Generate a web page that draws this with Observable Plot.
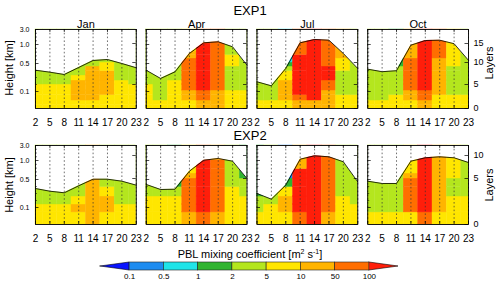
<!DOCTYPE html>
<html><head><meta charset="utf-8">
<script src="https://cdn.jsdelivr.net/npm/d3@7"></script>
<script src="https://cdn.jsdelivr.net/npm/@observablehq/plot@0.6"></script>
<style>
body{margin:0;background:#fff;font-family:"Liberation Sans",Arial,Helvetica,sans-serif;color:#000;}
#wrap{position:relative;width:500px;height:283px;overflow:hidden;background:#fff;}
.t{position:absolute;white-space:nowrap;line-height:13px;}
.rot{position:absolute;white-space:nowrap;transform:translate(-50%,-50%) rotate(-90deg);line-height:12px;}
sup{font-size:7px;vertical-align:0;position:relative;top:-4px;}
</style></head><body><div id="wrap"></div>
<script>
// ---------------- data ----------------
const months = ["Jan", "Apr", "Jul", "Oct"];
const hours = [2, 5, 8, 11, 14, 17, 20, 23];
const heightTicks = [0.1, 0.5, 1, 3];
const heightTickLabels = ["0.1", "0.5", "1.0", "3.0"];
const minorHeightTicks = [0.2, 0.3, 0.4, 0.6, 0.7, 0.8, 0.9, 1.5, 2, 2.5];
const layerTicksExp1 = [0, 5, 10, 15];
const layerTicksExp2 = [0, 5, 10];
// model level interface heights (km), bottom to top
const levelsExp1 = [0, 0.021, 0.047, 0.079, 0.114, 0.2, 0.257, 0.329, 0.393, 0.457, 0.526, 0.632, 0.724, 0.816, 0.921, 1.133, 1.6, 2.07, 2.53, 3.0];
const levelsExp2 = [0, 0.071, 0.143, 0.257, 0.393, 0.526, 0.658, 0.776, 0.895, 1.067, 1.667, 2.133, 2.6, 3.0];
// colour classes of the PBL mixing coefficient
const classBreaks = ["0.1", "0.5", "1", "2", "5", "10", "50", "100"];
const classColors = ["#0a14ff", "#1e8cf0", "#1fe4e8", "#30b430", "#b4e61e", "#ffe600", "#ffb400", "#ff6e00", "#ff1e0a"];

// PBL height (km) at each hour
const pblExp1Jan = [0.404, 0.376, 0.343, 0.443, 0.579, 0.605, 0.5, 0.439];
const pblExp1Apr = [0.404, 0.286, 0.381, 0.763, 1.227, 1.36, 0.939, 0.476];
const pblExp1Jul = [0.239, 0.181, 0.429, 1.227, 1.667, 1.573, 0.763, 0.429];
const pblExp1Oct = [0.419, 0.383, 0.397, 0.982, 1.533, 1.573, 1.107, 0.584];
const pblExp2Jan = [0.371, 0.333, 0.31, 0.41, 0.508, 0.508, 0.476, 0.419];
const pblExp2Apr = [0.429, 0.357, 0.361, 0.718, 1.04, 1.267, 0.982, 0.526];
const pblExp2Jul = [0.3, 0.219, 0.419, 1.173, 1.627, 1.493, 0.966, 0.467];
const pblExp2Oct = [0.476, 0.443, 0.443, 0.982, 1.36, 1.493, 1.36, 0.947];

// class of each model layer (bottom -> top; last class continues upward), one string per hour
const kExp1Jan = ["555554", "555554", "555554", "55666654", "5566666664", "55566666554", "5555554", "555554"];
const kExp1Apr = ["555554", "554", "5555554", "55667777777665", "6677888888888887", "66667", "5555444445554", "55554"];
const kExp1Jul = ["554", "554", "55666655432", "6678888888887", "668", "6666778887", "555444445556", "5554"];
const kExp1Oct = ["554", "554", "5554444443", "556677777776", "66778", "555666666667", "5554444445", "5554"];
const kExp2Jan = ["554", "554", "554", "5654", "6", "56654", "554", "554"];
const kExp2Apr = ["5554", "5554", "55543", "6777765", "7888888887", "6777777776", "55554", "555443"];
const kExp2Jul = ["5443", "554", "566531", "78888886", "8", "67", "5554", "554"];
const kExp2Oct = ["54", "54", "54", "5777765", "78", "56", "555445", "5554"];

// ---------------- layout ----------------
const FONT = "'Liberation Sans', Arial, Helvetica, sans-serif";
const W = 500, mL = 35, mR = 32, plotH = 79, mB = 20;
const padIn = 0.09;
const yFrac = [0, 17 / 79, 45 / 79, 64 / 79, 1];      // vertical axis layout
const heightDomain = [0, 0.1, 0.5, 1, 3];
const heightToFrac = d3.scaleLinear().domain(heightDomain).range(yFrac);
const step = (W - mL - mR) / (months.length - padIn);
const bw = step * (1 - padIn);

function buildRow(levels, layerTicks, pblByMonth, kByMonth) {
  const half = (hours[1] - hours[0]) / 2;
  const top = levels[levels.length - 1];
  const cells = [], pbl = [];
  months.forEach((m, mi) => {
    kByMonth[mi].forEach((s, i) => {
      const h = hours[i];
      for (let k = 0; k < s.length; k++) {
        cells.push({
          month: m,
          x1: Math.max(h - half, hours[0]), x2: Math.min(h + half, hours[hours.length - 1]),
          y1: levels[k], y2: k === s.length - 1 ? top : levels[k + 1], c: +s[k]
        });
      }
    });
    pblByMonth[mi].forEach((v, i) => pbl.push({month: m, hour: hours[i], pbl: v}));
  });
  const layerHeights = layerTicks.map(i => levels[i]);
  return {cells, pbl, layerHeights, layerTicks, top};
}

function rowPlot(row, showMonths) {
  const mT = showMonths ? 15 : 4;
  const H = mT + plotH + mB;
  const leftTickPos = heightTicks.map(heightToFrac);
  const rightTickPos = row.layerHeights.map(heightToFrac);
  const marks = [
    Plot.rect(row.cells, {x1: "x1", x2: "x2", y1: "y1", y2: "y2", fx: "month", fill: "c", stroke: "c", strokeWidth: 0.4}),
    Plot.areaY(row.pbl, {x: "hour", y1: "pbl", y2: () => row.top, fx: "month", fill: "white"}),
    Plot.lineY(row.pbl, {x: "hour", y: "pbl", fx: "month", stroke: "black", strokeWidth: 0.8}),
    Plot.ruleX(hours, {stroke: "#333", strokeWidth: 0.7, strokeDasharray: "1.6,2.2"}),
    Plot.tickY(heightTicks, {stroke: "black", strokeWidth: 0.7, insetRight: bw - 3.5}),
    Plot.tickY(minorHeightTicks, {stroke: "black", strokeWidth: 0.5, insetRight: bw - 2}),
    Plot.tickY(row.layerHeights, {stroke: "black", strokeWidth: 0.7, insetLeft: bw - 3.5}),
    Plot.tickX(hours, {stroke: "black", strokeWidth: 0.7, insetBottom: plotH - 3}),
    Plot.tickX(hours, {stroke: "black", strokeWidth: 0.7, insetTop: plotH - 3}),
    Plot.frame({stroke: "black", strokeWidth: 0.9}),
    Plot.axisX({ticks: hours, tickSize: 0, tickPadding: 10, fontSize: 10, label: null}),
    Plot.axisY({ticks: leftTickPos, anchor: "left", tickSize: 0, tickPadding: 6, fontSize: 7,
      tickFormat: d => heightTickLabels[leftTickPos.indexOf(d)], label: null}),
    Plot.axisY({ticks: rightTickPos, anchor: "right", tickSize: 0, tickPadding: 5, fontSize: 9,
      tickFormat: d => String(row.layerTicks[rightTickPos.indexOf(d)]), label: null})
  ];
  if (showMonths) marks.push(Plot.axisFx({anchor: "top", tickSize: 0, tickPadding: 2, fontSize: 11, label: null}));
  return Plot.plot({
    width: W, height: H, marginLeft: mL, marginRight: mR, marginTop: mT, marginBottom: mB,
    style: {background: "transparent", fontFamily: FONT, color: "#000", overflow: "visible"},
    fx: {domain: months, paddingInner: padIn, paddingOuter: 0, round: false, axis: null, label: null},
    x: {domain: [hours[0], hours[hours.length - 1]], axis: null},
    y: {domain: [0, 1], transform: heightToFrac, axis: null},
    color: {type: "ordinal", domain: d3.range(classColors.length), range: classColors},
    marks
  });
}

function colorbar() {
  const tri = 0.85;
  const n = classBreaks.length - 1;
  const boxes = d3.range(n).map(i => ({x1: i, x2: i + 1, c: i + 1}));
  const leftTri = [{x: -tri, y1: 0.5, y2: 0.5}, {x: 0, y1: 0, y2: 1}];
  const rightTri = [{x: n, y1: 0, y2: 1}, {x: n + tri, y1: 0.5, y2: 0.5}];
  return Plot.plot({
    width: W, height: 26, marginLeft: 100, marginRight: 102, marginTop: 4, marginBottom: 14,
    style: {background: "transparent", fontFamily: FONT, color: "#000", overflow: "visible"},
    x: {domain: [-tri, n + tri], axis: null},
    y: {domain: [0, 1], axis: null},
    color: {type: "ordinal", domain: d3.range(classColors.length), range: classColors},
    marks: [
      Plot.areaY(leftTri, {x: "x", y1: "y1", y2: "y2", fill: classColors[0], stroke: "black", strokeWidth: 0.6}),
      Plot.areaY(rightTri, {x: "x", y1: "y1", y2: "y2", fill: classColors[classColors.length - 1], stroke: "black", strokeWidth: 0.6}),
      Plot.rect(boxes, {x1: "x1", x2: "x2", y1: () => 0, y2: () => 1, fill: "c", stroke: "#222", strokeWidth: 0.6}),
      Plot.axisX({ticks: d3.range(classBreaks.length), tickFormat: i => classBreaks[i], tickSize: 0, tickPadding: 3, fontSize: 8, label: null})
    ]
  });
}

// ---------------- assemble ----------------
const wrap = document.getElementById("wrap");
function place(el, top, left = 0) { el.style.position = "absolute"; el.style.top = top + "px"; el.style.left = left + "px"; wrap.appendChild(el); return el; }
function html(s, cls, css) { const d = document.createElement("div"); d.className = cls; d.innerHTML = s; Object.assign(d.style, css); wrap.appendChild(d); return d; }

const row1 = buildRow(levelsExp1, layerTicksExp1, [pblExp1Jan, pblExp1Apr, pblExp1Jul, pblExp1Oct], [kExp1Jan, kExp1Apr, kExp1Jul, kExp1Oct]);
const row2 = buildRow(levelsExp2, layerTicksExp2, [pblExp2Jan, pblExp2Apr, pblExp2Jul, pblExp2Oct], [kExp2Jan, kExp2Apr, kExp2Jul, kExp2Oct]);

place(rowPlot(row1, true), 14);
place(rowPlot(row2, false), 141);
place(colorbar(), 258);

html("EXP1", "t", {top: "4px", left: "0", width: "500px", textAlign: "center", fontSize: "13px"});
html("EXP2", "t", {top: "129px", left: "0", width: "500px", textAlign: "center", fontSize: "13px"});
html("Height [km]", "rot", {left: "9px", top: "68px", fontSize: "11px"});
html("Height [km]", "rot", {left: "9px", top: "185px", fontSize: "11px"});
html("Layers", "rot", {left: "489px", top: "63px", fontSize: "11px"});
html("Layers", "rot", {left: "489px", top: "185px", fontSize: "11px"});
html("PBL mixing coefficient [m<sup>2</sup> s<sup>-1</sup>]", "t", {top: "248px", left: "0", width: "500px", textAlign: "center", fontSize: "11px"});
</script></body></html>
